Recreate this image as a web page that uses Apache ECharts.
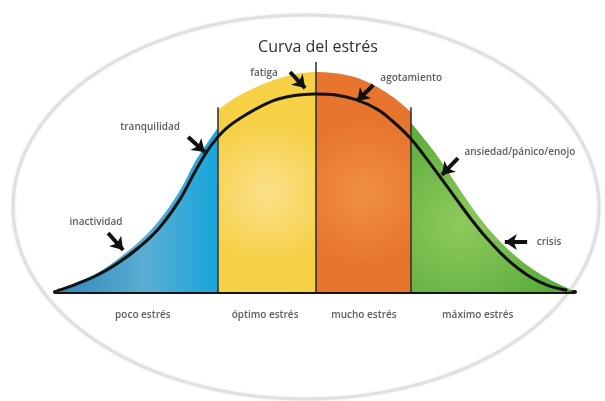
<!DOCTYPE html>
<html>
<head>
<meta charset="utf-8">
<script src="https://cdn.jsdelivr.net/npm/echarts@6/dist/echarts.min.js"></script>
<style>
  html, body { margin: 0; padding: 0; background: #ffffff; }
  #chart { width: 605px; height: 401px; }
</style>
</head>
<body>
<div id="chart"></div>
<script>
// ---- data (stress level on x, performance on y) ----
const zoneNames = ['poco estrés', 'óptimo estrés', 'mucho estrés', 'máximo estrés'];
const zoneLabelX = [16.9, 40.4, 59.4, 81.3];
const dividers = [31.3, 50.2, 68.5];
const dividerTops = [84, 104.5, 84];

const blueZone   = [[0.4,0.5],[4,4.2],[8,8.5],[12,14.8],[16,22.5],[20,32.5],[24,46],[27,59.5],[29.5,68.5],[31.3,74.5]];
const yellowZone = [[31.3,82.7],[34.6,88.2],[37.5,91.8],[40.8,95.2],[43.8,97.6],[47.1,99.4],[50.2,100]];
const orangeZone = [[50.2,100],[53.5,99.6],[56.7,98.3],[60,95.6],[63.1,91.6],[65.8,87.2],[68.5,81.8]];
const greenZone  = [[68.5,76.8],[72.7,64.5],[76,53.2],[79.2,41.8],[82.3,31.8],[85.6,22.9],[88.8,15.9],[91.9,10.3],[95.2,5.6],[98.5,1.8],[99.6,0.5]];

const stressCurve = [[0.4,0.6],[4,3.5],[8,7.5],[12,13],[16,20],[20,29],[24,42],[27,55],[30,66.5],[33,74.5],[37,81],[42,87],[46,89.3],[50,90],[54,89.5],[58,87.3],[62,83],[65,77.5],[68.3,70],[71,62],[74,52.5],[77,42.8],[80,33.2],[83,24.5],[86,17],[89,10.8],[92,6],[95,2.8],[98.5,0.8]];

const noteNames = ['inactividad', 'tranquilidad', 'fatiga', 'agotamiento', 'ansiedad/pánico/enojo', 'crisis'];
const noteAt    = [[7.9,31.8],[18.3,75],[40.2,99.5],[68.5,97.3],[89.4,63.6],[95,22.7]];
const arrowFrom = [[10.2,26.8],[25.6,70.5],[45.2,100],[61.2,94.1],[77.5,60.9],[90.8,22.7]];
const arrowTo   = [[13.1,19.1],[28.8,63.6],[48.1,92.7],[58.1,86.8],[74.4,53.2],[86.5,22.7]];

// ---- chart ----
const chart = echarts.init(document.getElementById('chart'), null, { renderer: 'canvas' });
const G = echarts.graphic;
const font = 'Open Sans';

function zone(name, data, color) {
  return {
    name, type: 'line', data, smooth: 0.35, symbol: 'none', silent: true, z: 1,
    lineStyle: { width: 0 },
    areaStyle: { color, opacity: 1 }
  };
}

const labelData = noteNames.map((n, i) => ({ name: n, value: noteAt[i] }))
  .concat(zoneNames.map((n, i) => ({ name: n, value: [zoneLabelX[i], -10.5] })));

chart.setOption({
  animation: false,
  backgroundColor: '#ffffff',
  title: {
    text: 'Curva del estrés', left: 313, top: 34, textAlign: 'center',
    textStyle: { fontFamily: font, fontSize: 16, fontWeight: 'normal', color: '#2f2f2f' }
  },
  graphic: [{
    type: 'ellipse', z: -10, silent: true,
    shape: { cx: 306, cy: 207, rx: 293, ry: 192 },
    style: { fill: 'none', stroke: '#e0e0e0', lineWidth: 3, shadowBlur: 3, shadowColor: 'rgba(0,0,0,0.10)' }
  }],
  grid: { left: 55, right: 30, top: 61, bottom: 65 },
  xAxis: {
    type: 'value', min: 0, max: 100,
    axisLine: { show: true, onZero: true, lineStyle: { color: '#151515', width: 4, cap: 'round' } },
    axisTick: { show: false }, axisLabel: { show: false }, splitLine: { show: false }
  },
  yAxis: {
    type: 'value', min: -20, max: 105,
    axisLine: { show: false }, axisTick: { show: false }, axisLabel: { show: false }, splitLine: { show: false }
  },
  series: [
    zone('poco', blueZone, new G.LinearGradient(0, 0, 1, 0, [
      { offset: 0, color: '#2f86b8' }, { offset: 0.55, color: '#5aaed2' }, { offset: 1, color: '#17a5dc' }])),
    zone('optimo', yellowZone, new G.RadialGradient(0.5, 0.55, 0.75, [
      { offset: 0, color: '#fbe08a' }, { offset: 1, color: '#f6d045' }])),
    zone('mucho', orangeZone, new G.RadialGradient(0.5, 0.55, 0.75, [
      { offset: 0, color: '#f0903f' }, { offset: 1, color: '#e8752e' }])),
    zone('maximo', greenZone, new G.RadialGradient(0.3, 0.6, 0.7, [
      { offset: 0, color: '#8fca5c' }, { offset: 1, color: '#58aa3c' }])),
    {
      name: 'curva', type: 'line', data: stressCurve, smooth: 0.4, symbol: 'none', silent: true, z: 3,
      lineStyle: { color: '#111', width: 3 },
      markLine: {
        silent: true, symbol: ['none', 'none'], label: { show: false }, z: 2,
        lineStyle: { color: '#2a2a2a', width: 1.5, type: 'solid' },
        data: dividers.map((d, i) => [{ coord: [d, 0] }, { coord: [d, dividerTops[i]] }])
      }
    },
    {
      name: 'notas', type: 'scatter', data: labelData, symbolSize: 1, silent: true, z: 5,
      itemStyle: { color: 'rgba(0,0,0,0)' },
      label: {
        show: true, position: 'inside', formatter: p => p.name,
        fontFamily: font, fontSize: 10, fontWeight: 600, color: '#333333'
      },
      markLine: {
        silent: true, symbol: ['none', 'arrow'], symbolSize: 12, label: { show: false },
        lineStyle: { color: '#111', width: 4, type: 'solid' },
        data: arrowFrom.map((a, i) => [{ coord: a }, { coord: arrowTo[i] }])
      }
    }
  ]
});
</script>
</body>
</html>
